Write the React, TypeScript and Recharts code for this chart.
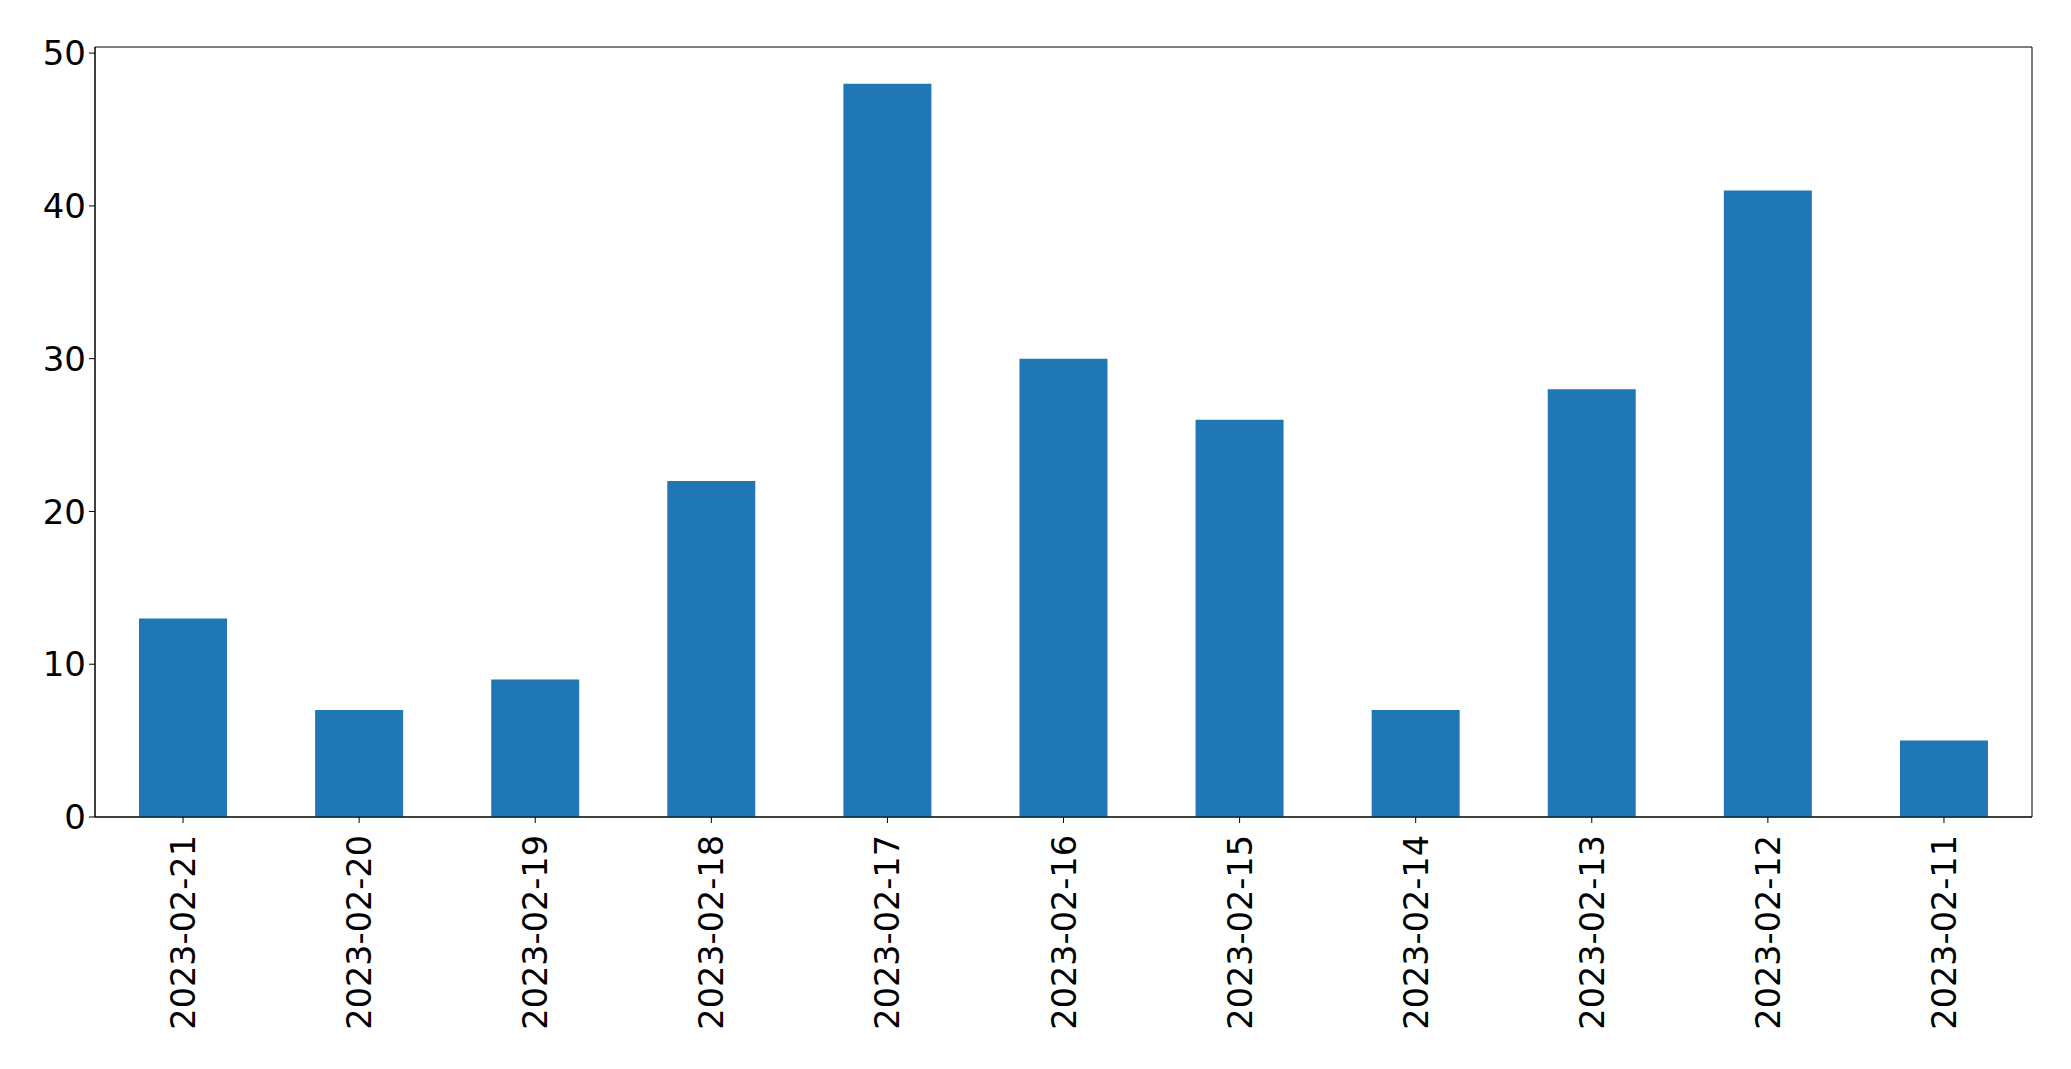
import { BarChart, Bar, XAxis, YAxis, ReferenceArea } from 'recharts';

const dates = [
  '2023-02-21', '2023-02-20', '2023-02-19', '2023-02-18', '2023-02-17', '2023-02-16',
  '2023-02-15', '2023-02-14', '2023-02-13', '2023-02-12', '2023-02-11',
];
const counts = [13, 7, 9, 22, 48, 30, 26, 7, 28, 41, 5];
const yTicks = [0, 10, 20, 30, 40, 50];

const chartData = dates.map((d, i) => ({ date: d, count: counts[i] }));

const FONT = '"DejaVu Sans", sans-serif';

function DateTick(props: any) {
  const { x, y, payload } = props;
  return (
    <g transform={`translate(${x},${y + 10})`}>
      <text
        transform="rotate(-90)"
        textAnchor="end"
        dy="0.36em"
        fontSize={33.5}
        fontFamily={FONT}
        fill="#000"
      >
        {payload.value}
      </text>
    </g>
  );
}

export default function App() {
  return (
    <div style={{ position: 'absolute', left: 0, top: 0, background: '#fff' }}>
      <BarChart
        width={2071}
        height={1069}
        data={chartData}
        margin={{ top: 47, right: 39, bottom: 0, left: 0 }}
        barCategoryGap="25%"
      >
        <XAxis
          dataKey="date"
          height={252}
          interval={0}
          tick={<DateTick />}
          tickSize={6}
          axisLine={{ stroke: '#000' }}
          tickLine={{ stroke: '#000' }}
        />
        <YAxis
          width={95}
          domain={[0, 50.4]}
          ticks={yTicks}
          tickSize={6}
          tickMargin={3}
          axisLine={{ stroke: '#000' }}
          tickLine={{ stroke: '#000' }}
          tick={{ fontSize: 34, fontFamily: FONT, fill: '#000' }}
        />
        <Bar dataKey="count" fill="#1f77b4" isAnimationActive={false} />
        <ReferenceArea y1={0} y2={50.4} fill="none" stroke="#000" strokeWidth={1} fillOpacity={0} />
      </BarChart>
    </div>
  );
}
